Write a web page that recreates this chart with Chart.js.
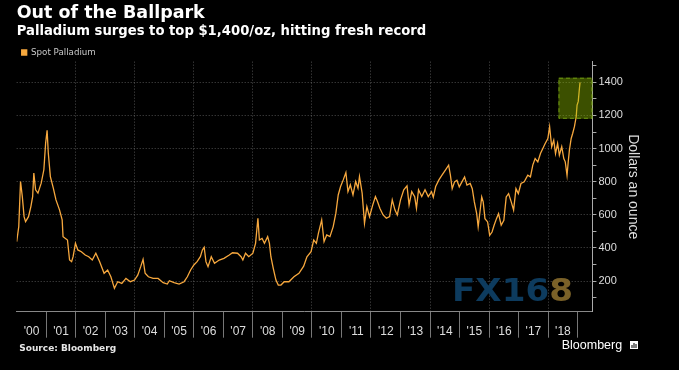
<!DOCTYPE html>
<html lang="en">
<head>
<meta charset="UTF-8">
<title>Out of the Ballpark</title>
<script src="https://cdn.jsdelivr.net/npm/chart.js"></script>
<style>
  html, body { margin: 0; padding: 0; background: #000; }
  canvas { display: block; }
</style>
</head>
<body>
<canvas id="palladiumChart" width="679" height="370"></canvas>
<script>
// spot palladium (decimal year, $/oz)
const years = [
  2000.00, 2000.07, 2000.13, 2000.19, 2000.25, 2000.30, 2000.40, 2000.48, 2000.54, 2000.58,
  2000.64, 2000.72, 2000.83, 2000.92, 2000.98, 2001.03, 2001.07, 2001.14, 2001.24, 2001.33,
  2001.45, 2001.54, 2001.57, 2001.64, 2001.72, 2001.79, 2001.86, 2001.91, 2001.99, 2002.07,
  2002.19, 2002.32, 2002.44, 2002.56, 2002.68, 2002.81, 2002.96, 2003.08, 2003.19, 2003.31,
  2003.42, 2003.56, 2003.70, 2003.85, 2003.99, 2004.10, 2004.20, 2004.28, 2004.35, 2004.46,
  2004.62, 2004.79, 2004.96, 2005.10, 2005.17, 2005.33, 2005.50, 2005.67, 2005.78, 2005.89,
  2006.00, 2006.11, 2006.22, 2006.29, 2006.35, 2006.41, 2006.48, 2006.59, 2006.70, 2006.86,
  2007.02, 2007.20, 2007.31, 2007.48, 2007.60, 2007.66, 2007.75, 2007.86, 2008.00, 2008.09,
  2008.17, 2008.22, 2008.31, 2008.39, 2008.50, 2008.56, 2008.61, 2008.69, 2008.78, 2008.86,
  2008.95, 2009.06, 2009.22, 2009.39, 2009.56, 2009.72, 2009.83, 2009.97, 2010.06, 2010.15,
  2010.22, 2010.33, 2010.41, 2010.50, 2010.61, 2010.72, 2010.81, 2010.89, 2010.97, 2011.06,
  2011.15, 2011.22, 2011.30, 2011.39, 2011.48, 2011.56, 2011.61, 2011.70, 2011.78, 2011.86,
  2011.95, 2012.06, 2012.15, 2012.22, 2012.30, 2012.41, 2012.52, 2012.63, 2012.72, 2012.81,
  2012.89, 2013.00, 2013.11, 2013.22, 2013.29, 2013.38, 2013.48, 2013.54, 2013.61, 2013.72,
  2013.83, 2013.94, 2014.05, 2014.11, 2014.19, 2014.30, 2014.41, 2014.52, 2014.63, 2014.69,
  2014.75, 2014.83, 2014.91, 2014.99, 2015.08, 2015.17, 2015.25, 2015.36, 2015.43, 2015.50,
  2015.58, 2015.63, 2015.69, 2015.75, 2015.80, 2015.86, 2015.95, 2016.02, 2016.10, 2016.17,
  2016.25, 2016.32, 2016.41, 2016.50, 2016.58, 2016.66, 2016.75, 2016.83, 2016.91, 2016.99,
  2017.08, 2017.19, 2017.31, 2017.40, 2017.48, 2017.56, 2017.65, 2017.74, 2017.82, 2017.90,
  2017.99, 2018.05, 2018.12, 2018.19, 2018.25, 2018.32, 2018.38, 2018.46, 2018.53, 2018.58,
  2018.64, 2018.68, 2018.72, 2018.78, 2018.83, 2018.89, 2018.95, 2018.98, 2019.02, 2019.06,
  2019.08
];
const prices = [
  438, 529, 801, 710, 589, 559, 589, 650, 710, 852,
  751, 731, 791, 872, 1033, 1110, 973, 831, 761, 690,
  630, 569, 468, 458, 448, 327, 317, 347, 428, 388,
  377, 357, 347, 327, 368, 317, 247, 267, 226, 156,
  196, 186, 216, 196, 206, 236, 287, 331, 247, 226,
  216, 216, 190, 182, 202, 190, 182, 196, 226, 267,
  297, 317, 347, 388, 404, 317, 287, 347, 307, 327,
  337, 357, 371, 368, 347, 327, 368, 347, 368, 428,
  579, 448, 458, 428, 468, 428, 347, 277, 206, 176,
  176, 196, 196, 226, 247, 290, 347, 377, 448, 428,
  489, 569, 438, 478, 468, 529, 610, 720, 771, 811,
  855, 740, 781, 720, 801, 761, 831, 731, 549, 650,
  589, 660, 710, 680, 640, 599, 579, 589, 690, 630,
  599, 690, 751, 775, 660, 740, 710, 640, 751, 710,
  751, 710, 740, 706, 771, 811, 841, 870, 900, 839,
  758, 799, 809, 769, 799, 829, 779, 789, 758, 678,
  607, 527, 617, 708, 678, 577, 557, 476, 496, 537,
  577, 607, 537, 567, 708, 728, 678, 628, 758, 728,
  789, 799, 839, 829, 900, 940, 920, 970, 1001, 1031,
  1061, 1132, 1011, 1051, 970, 1031, 960, 1011, 940, 920,
  839, 920, 991, 1061, 1091, 1132, 1192, 1263, 1285, 1364,
  1400
];

const yearTicks = [2000, 2001, 2002, 2003, 2004, 2005, 2006, 2007, 2008, 2009,
  2010, 2011, 2012, 2013, 2014, 2015, 2016, 2017, 2018, 2019];
const yearLabels = ["'00", "'01", "'02", "'03", "'04", "'05", "'06", "'07", "'08", "'09",
  "'10", "'11", "'12", "'13", "'14", "'15", "'16", "'17", "'18", ""];
const priceTicks = [100, 200, 300, 400, 500, 600, 700, 800, 900, 1000, 1100, 1200, 1300, 1400, 1500];
const priceLabels = [200, 400, 600, 800, 1000, 1200, 1400];

// highlighted record zone
const boxYears = [2018.35, 2019.5];
const boxPrices = [1180, 1428];

const ORANGE = '#f7a83e';
const GRID = 'rgba(255,255,255,0.3)';
const X_MIN = 2000, X_MAX = 2019.5;

const highlightBox = {
  id: 'highlightBox',
  afterDatasetsDraw(chart) {
    const { ctx, scales: { x, y } } = chart;
    const left = x.getPixelForValue(boxYears[0]);
    const right = x.getPixelForValue(boxYears[1]);
    const top = y.getPixelForValue(boxPrices[1]);
    const bottom = y.getPixelForValue(boxPrices[0]);
    ctx.save();
    ctx.fillStyle = 'rgba(150,200,0,0.4)';
    ctx.fillRect(left, top, right - left, bottom - top);
    ctx.setLineDash([4, 3]);
    ctx.strokeStyle = '#6f9a12';
    ctx.lineWidth = 1;
    ctx.strokeRect(left + 0.5, top + 0.5, right - left - 1, bottom - top - 1);
    ctx.restore();
  }
};

const watermark = {
  id: 'watermark',
  beforeDatasetsDraw(chart) {
    const c = chart.ctx;
    c.save();
    c.textAlign = 'left';
    c.textBaseline = 'alphabetic';
    c.font = 'bold 31.5px "DejaVu Sans"';
    const w1 = c.measureText('FX16').width;
    const w = c.measureText('FX168').width;
    c.translate(452, 301);
    c.scale(121 / w, 1);
    c.fillStyle = '#0d3b5e';
    c.fillText('FX16', 0, 0);
    c.fillStyle = '#7a6128';
    c.fillText('8', w1, 0);
    c.restore();
  }
};

const footer = {
  id: 'footer',
  afterDraw(chart) {
    const c = chart.ctx;
    c.save();
    c.textAlign = 'left';
    c.textBaseline = 'alphabetic';
    c.fillStyle = '#e6e6e6';
    c.font = 'bold 9px "DejaVu Sans"';
    c.fillText('Source: Bloomberg', 19.3, 350.5);
    c.fillStyle = '#ffffff';
    c.font = '12.5px "Liberation Sans"';
    c.fillText('Bloomberg', 561.7, 349);
    // little logo square
    c.fillRect(630, 341, 8, 8);
    c.fillStyle = '#000';
    c.fillRect(631.5, 345, 1, 3);
    c.fillRect(633.5, 343, 1, 5);
    c.fillRect(635.5, 344, 1, 4);
    c.restore();
  }
};

const ctx = document.getElementById('palladiumChart').getContext('2d');
new Chart(ctx, {
  type: 'line',
  data: {
    datasets: [{
      label: 'Spot Palladium',
      data: years.map((yr, i) => ({ x: yr, y: prices[i] })),
      borderColor: ORANGE,
      backgroundColor: ORANGE,
      borderWidth: 1.3,
      pointRadius: 0,
      tension: 0
    }]
  },
  options: {
    responsive: false,
    animation: false,
    layout: { padding: { left: 16.7, right: 37.3, top: 0, bottom: 32.3 } },
    plugins: {
      title: {
        display: true,
        text: 'Out of the Ballpark',
        align: 'start',
        color: '#ffffff',
        font: { family: 'DejaVu Sans', size: 17.5, weight: 'bold', lineHeight: 1.2 },
        padding: { top: 2.5, bottom: 0 }
      },
      subtitle: {
        display: true,
        text: 'Palladium surges to top $1,400/oz, hitting fresh record',
        align: 'start',
        color: '#ffffff',
        font: { family: 'DejaVu Sans', size: 13.2, weight: 'bold', lineHeight: 1.2 },
        padding: { top: 0.3, bottom: 3.5 }
      },
      legend: {
        display: true,
        position: 'top',
        align: 'start',
        maxHeight: 18.5,
        labels: {
          boxWidth: 5,
          boxHeight: 5,
          padding: 5,
          color: '#c8c8c8',
          font: { family: 'DejaVu Sans', size: 8.7 }
        }
      },
      tooltip: { enabled: false }
    },
    scales: {
      // year separators under the axis line
      x: {
        type: 'linear',
        min: X_MIN,
        max: X_MAX,
        afterBuildTicks: scale => { scale.ticks = yearTicks.map(v => ({ value: v })); },
        ticks: { display: false },
        grid: {
          color: c => (c.tick && c.tick.value % 2 === 0 && c.tick.value > 2000 && c.tick.value < 2019) ? GRID : 'transparent',
          tickColor: c => (c.tick && c.tick.value === 2000) ? 'transparent' : '#777777',
          tickLength: 26,
          tickBorderDash: []
        },
        border: { color: '#888888', dash: [1, 2] }
      },
      // year labels, sitting between the separators
      xLabels: {
        type: 'linear',
        axis: 'x',
        position: { y: -64 },
        min: X_MIN,
        max: X_MAX,
        afterBuildTicks: scale => { scale.ticks = yearTicks.map(v => ({ value: v })); },
        ticks: {
          autoSkip: false,
          maxRotation: 0,
          labelOffset: 14.8,
          padding: 0,
          color: '#dddddd',
          font: { family: 'Liberation Sans', size: 12 },
          callback: (v, i) => yearLabels[i]
        },
        grid: { display: false, drawTicks: false, tickLength: 0 },
        border: { display: false }
      },
      y: {
        type: 'linear',
        position: 'right',
        min: 15,
        max: 1525,
        afterBuildTicks: scale => { scale.ticks = priceTicks.map(v => ({ value: v })); },
        ticks: {
          autoSkip: false,
          padding: 2,
          color: '#dddddd',
          font: { family: 'Liberation Sans', size: 11 },
          callback: v => priceLabels.includes(v) ? String(v) : ''
        },
        grid: {
          color: c => (c.tick && priceLabels.includes(c.tick.value)) ? GRID : 'transparent',
          tickColor: '#aaaaaa',
          tickLength: 4,
          tickBorderDash: []
        },
        border: { color: '#aaaaaa', dash: [1, 2] },
        title: {
          display: true,
          text: 'Dollars an ounce',
          color: '#dddddd',
          font: { family: 'Liberation Sans', size: 14 },
          padding: 0
        }
      }
    }
  },
  plugins: [watermark, highlightBox, footer]
});
</script>
</body>
</html>
